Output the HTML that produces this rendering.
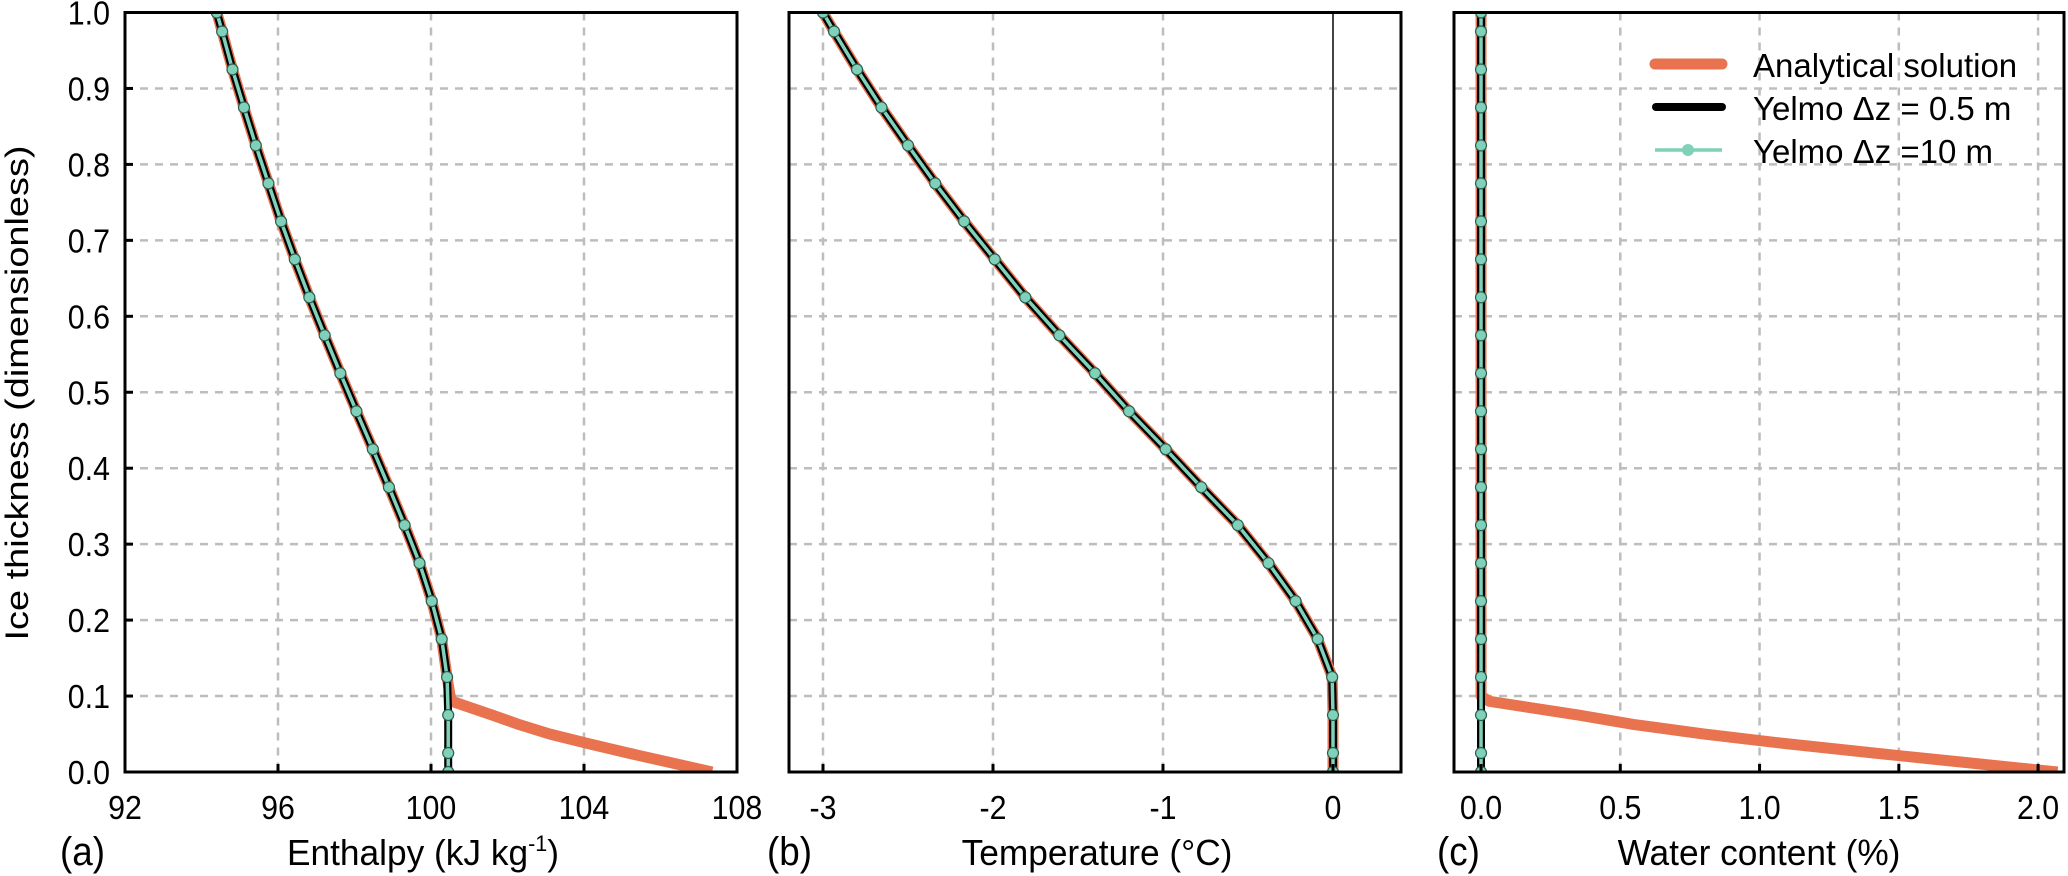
<!DOCTYPE html>
<html><head><meta charset="utf-8">
<style>
html,body{margin:0;padding:0;background:#fff;}
svg{display:block;}
text{font-family:"Liberation Sans",sans-serif;fill:#000;}
</style></head>
<body>
<svg id="chart" width="2068" height="876" viewBox="0 0 2068 876" xmlns="http://www.w3.org/2000/svg">
<defs>
<clipPath id="clipA"><rect x="125" y="12.5" width="612" height="759.5"/></clipPath>
<clipPath id="clipB"><rect x="789" y="12.5" width="612" height="759.5"/></clipPath>
<clipPath id="clipC"><rect x="1454" y="12.5" width="610" height="759.5"/></clipPath>
</defs>
<g id="root"></g>
</svg>
<script>
// ---- data ----
const zModel = [0,0.025,0.075,0.125,0.175,0.225,0.275,0.325,0.375,0.425,0.475,0.525,0.575,0.625,0.675,0.725,0.775,0.825,0.875,0.925,0.975,1.0];
const enthalpyModel = [100.45,100.45,100.45,100.42,100.28,100.02,99.70,99.31,98.90,98.48,98.05,97.63,97.22,96.82,96.44,96.08,95.75,95.42,95.11,94.81,94.54,94.40];
const tempModel = [0,0,0,-0.005,-0.09,-0.22,-0.38,-0.56,-0.775,-0.984,-1.20,-1.40,-1.61,-1.81,-1.99,-2.17,-2.34,-2.50,-2.656,-2.80,-2.935,-3.0];
const waterModel = [0,0,0,0,0,0,0,0,0,0,0,0,0,0,0,0,0,0,0,0,0,0];
const zAnalyticBase = [0,0.0125,0.025,0.0375,0.05,0.0625,0.075,0.093,0.1];
const enthalpyAnalyticBase = [107.35,106.25,105.15,104.1,103.1,102.3,101.6,100.55,100.5];
const waterAnalyticBase = [2.07,1.74,1.41,1.09,0.80,0.55,0.35,0.03,0.0];
const yTicks = [0,0.1,0.2,0.3,0.4,0.5,0.6,0.7,0.8,0.9,1.0];
const yTickLabels = ["0.0","0.1","0.2","0.3","0.4","0.5","0.6","0.7","0.8","0.9","1.0"];
const xTicksA = [92,96,100,104,108];
const xTickLabelsA = ["92","96","100","104","108"];
const xTicksB = [-3,-2,-1,0];
const xTickLabelsB = ["-3","-2","-1","0"];
const xTicksC = [0,0.5,1.0,1.5,2.0];
const xTickLabelsC = ["0.0","0.5","1.0","1.5","2.0"];

// ---- layout ----
const NS="http://www.w3.org/2000/svg";
const root=document.getElementById('root');
const yTop=12.5, yBot=772;
function yS(z){return yBot-(z)*(yBot-yTop);}
function mk(tag,attrs,parent){const e=document.createElementNS(NS,tag);for(const k in attrs)e.setAttribute(k,attrs[k]);(parent||root).appendChild(e);return e;}
const panels=[
 {id:'a',x0:125,x1:737,d0:92,d1:108,ticks:xTicksA,labels:xTickLabelsA,clip:'clipA',title:'Enthalpy (kJ kg',sup:'-1',tx:423,letter:'(a)',lx:60,grid:[96,100,104],zero:null},
 {id:'b',x0:789,x1:1401,d0:-3.2,d1:0.4,ticks:xTicksB,labels:xTickLabelsB,clip:'clipB',title:'Temperature (°C)',tx:1097,letter:'(b)',lx:767,grid:[-3,-2,-1],zero:0},
 {id:'c',x0:1454,x1:2064,d0:-0.097,d1:2.093,ticks:xTicksC,labels:xTickLabelsC,clip:'clipC',title:'Water content (%)',tx:1759,letter:'(c)',lx:1437,grid:[0.5,1.0,1.5,2.0],zero:null}
];
function xS(p,v){return p.x0+(v-p.d0)/(p.d1-p.d0)*(p.x1-p.x0);}
function pts(p,xs,zs){return xs.map((v,i)=>xS(p,v).toFixed(2)+','+yS(zs[i]).toFixed(2)).join(' ');}
function ctext(x,y,str,size,anchor,name,sx){
  const t=mk('text',{transform:`translate(${x},${y}) scale(${sx||0.92},1)`,'font-size':size,'text-anchor':anchor||'middle'});
  
  
  t.textContent=str;return t;
}

const modelX={a:enthalpyModel,b:tempModel,c:waterModel};
panels.forEach(p=>{
  const g=mk('g',{});
  
  
  yTicks.slice(1,10).forEach(z=>{
    const l=mk('line',{x1:p.x0,x2:p.x1,y1:yS(z),y2:yS(z),stroke:'#bdbdbd','stroke-width':2.5,'stroke-dasharray':'8,7'},g);
    
    
  });
  p.grid.forEach(v=>{
    const l=mk('line',{x1:xS(p,v),x2:xS(p,v),y1:yTop,y2:yBot,stroke:'#bdbdbd','stroke-width':2.5,'stroke-dasharray':'8,7'},g);
    
    
  });
  if(p.zero!==null){
    const l=mk('line',{x1:xS(p,p.zero),x2:xS(p,p.zero),y1:yTop,y2:yBot,stroke:'#444','stroke-width':2},g);
    
    
  }
  const dg=mk('g',{'clip-path':`url(#${p.clip})`},g);
  
  
  let ax, az;
  if(p.id==='a'){ax=enthalpyAnalyticBase.concat(enthalpyModel.slice(3));az=zAnalyticBase.concat(zModel.slice(3));}
  else if(p.id==='c'){ax=waterAnalyticBase.concat(waterModel.slice(3));az=zAnalyticBase.concat(zModel.slice(3));}
  else {ax=tempModel;az=zModel;}
  const an=mk('polyline',{points:pts(p,ax,az),fill:'none',stroke:'#E8734E','stroke-width':11,'stroke-linejoin':'round'},dg);
  
  
  const bl=mk('polyline',{points:pts(p,modelX[p.id],zModel),fill:'none',stroke:'#000','stroke-width':8,'stroke-linejoin':'round'},dg);
  
  
  const tl=mk('polyline',{points:pts(p,modelX[p.id],zModel),fill:'none',stroke:'#7FD1B9','stroke-width':3.5,'stroke-linejoin':'round'},dg);
  
  
  zModel.forEach((z,i)=>{
    const c=mk('circle',{cx:xS(p,modelX[p.id][i]),cy:yS(z),r:5.5,fill:'#7FD1B9',stroke:'#2b5e50','stroke-width':1.2},dg);
    
    
  });
  const fr=mk('rect',{x:p.x0,y:yTop,width:p.x1-p.x0,height:yBot-yTop,fill:'none',stroke:'#000','stroke-width':3},g);
  
  
  p.ticks.forEach((v,i)=>{
    const tk=mk('line',{x1:xS(p,v),x2:xS(p,v),y1:yBot,y2:yBot-8,stroke:'#000','stroke-width':3},g);
    
    
    ctext(xS(p,v),819,p.labels[i],33,'middle','x-tick-label');
  });
  const tt=ctext(p.tx,865,p.title,36,'middle','x-axis-title',0.98);
  if(p.sup){const s=document.createElementNS(NS,'tspan');s.setAttribute('font-size','22');s.setAttribute('dy','-14');s.textContent=p.sup;tt.appendChild(s);
    const s2=document.createElementNS(NS,'tspan');s2.setAttribute('dy','14');s2.textContent=')';tt.appendChild(s2);}
  ctext(p.lx,865,p.letter,40,'start','panel-label',0.92);
});
yTicks.forEach((z,i)=>{
  const tk=mk('line',{x1:125,x2:133,y1:yS(z),y2:yS(z),stroke:'#000','stroke-width':3});
  
  
  ctext(110,yS(z)+12,yTickLabels[i],33,'end','y-tick-label');
});
const yt=mk('text',{transform:'translate(28,393) rotate(-90)','font-size':32,'text-anchor':'middle',textLength:495,lengthAdjust:'spacingAndGlyphs'});


yt.textContent='Ice thickness (dimensionless)';
const lg=mk('g',{});


const l1=mk('line',{x1:1655,x2:1722,y1:64,y2:64,stroke:'#E8734E','stroke-width':11,'stroke-linecap':'round'},lg);


const l2=mk('line',{x1:1656,x2:1722,y1:107,y2:107,stroke:'#000','stroke-width':8,'stroke-linecap':'round'},lg);


const l3=mk('line',{x1:1655,x2:1722,y1:150,y2:150,stroke:'#7FD1B9','stroke-width':3.5},lg);


const l4=mk('circle',{cx:1688,cy:150,r:6,fill:'#7FD1B9'},lg);


[['Analytical solution',77],['Yelmo \u0394z = 0.5 m',120],['Yelmo \u0394z =10 m',163]].forEach(([s,y])=>{
  const t=mk('text',{x:1753,y:y,'font-size':33},lg);
  
  
  t.textContent=s;
});
</script>
</body></html>
